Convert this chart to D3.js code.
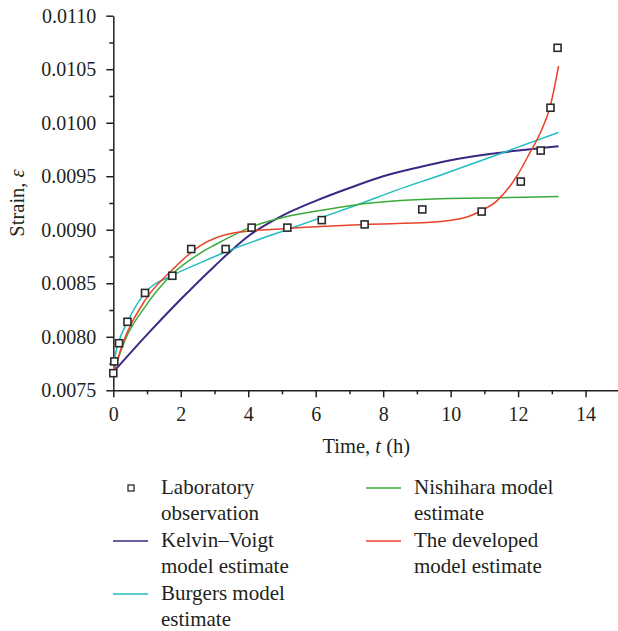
<!DOCTYPE html>
<html>
<head>
<meta charset="utf-8">
<script src="https://d3js.org/d3.v7.min.js"></script>
<style>
  body { margin: 0; background: #fff; }
  svg { display: block; font-family: "Liberation Serif", "Times New Roman", serif; }
  .axis path, .axis line { stroke: #231f20; }
  .axis text { fill: #231f20; font-size: 20px; font-family: "Liberation Serif", serif; }
</style>
</head>
<body>
<svg id="chart" width="618" height="631"></svg>
<script>
// laboratory observation
var obsTime = [0, 0.03, 0.17, 0.42, 0.94, 1.75, 2.31, 3.33, 4.10, 5.16, 6.18, 7.45, 9.16, 10.92, 12.08, 12.67, 12.96, 13.17]
var obsStrain = [0.00766, 0.00777, 0.00794, 0.00814, 0.00841, 0.00857, 0.00882, 0.00882, 0.00902, 0.00902, 0.00909, 0.00905, 0.00919, 0.00917, 0.00945, 0.00974, 0.01014, 0.01070]

// model estimates
var kvTime = [0, 1, 2, 3, 4, 5, 6, 7, 8, 9, 10, 11, 12, 13.2]
var kvStrain = [0.00767, 0.00802, 0.00835, 0.00866, 0.00894, 0.00913, 0.00927, 0.00939, 0.00950, 0.00958, 0.00965, 0.00970, 0.00974, 0.00978]

var burgersTime = [0, 0.05, 0.15, 0.42, 0.94, 1.73, 2.57, 3.31, 5.14, 6.13, 7.12, 8.4, 9.69, 11.46, 13.2]
var burgersStrain = [0.00766, 0.00781, 0.00794, 0.00814, 0.00841, 0.00857, 0.00869, 0.00879, 0.00900, 0.00911, 0.00922, 0.00937, 0.00951, 0.00971, 0.00991]

var nishiTime = [0, 0.35, 0.94, 1.73, 2.57, 3.02, 4.05, 5.24, 6.13, 7.12, 8.4, 9.69, 11.5, 13.2]
var nishiStrain = [0.00766, 0.00797, 0.00828, 0.00858, 0.00878, 0.00886, 0.00902, 0.00913, 0.00918, 0.00923, 0.00927, 0.00929, 0.00930, 0.00931]

var devTime = [0, 0.25, 0.94, 1.73, 2.57, 3.56, 5.04, 6.13, 7.46, 9.39, 10.38, 10.92, 11.37, 11.96, 12.35, 12.65, 12.95, 13.2]
var devStrain = [0.00766, 0.00791, 0.00834, 0.00862, 0.00885, 0.00897, 0.00901, 0.00903, 0.00905, 0.00907, 0.00911, 0.00918, 0.00927, 0.00950, 0.00972, 0.00990, 0.01015, 0.01053]

var xTicks = [0, 2, 4, 6, 8, 10, 12, 14]
var xMinorTicks = [1, 3, 5, 7, 9, 11, 13]
var yTicks = [0.0075, 0.0080, 0.0085, 0.0090, 0.0095, 0.0100, 0.0105, 0.0110]
var yMinorTicks = [0.00775, 0.00825, 0.00875, 0.00925, 0.00975, 0.01025, 0.01075]

var seriesNames = ["Kelvin\u2013Voigt model estimate", "Burgers model estimate", "Nishihara model estimate", "The developed model estimate"]
var seriesColors = ["#3d2785", "#21bcc2", "#3aaa3a", "#e9432a"]
var seriesWidths = [2, 1.5, 1.5, 1.5]

var svg = d3.select("#chart")

var x = d3.scaleLinear().domain([0, 15]).range([113.3, 619.3])
var y = d3.scaleLinear().domain([0.0075, 0.0110]).range([390.3, 15.7])

// axes
svg.append("g")
    .attr("class", "axis")
    .attr("transform", "translate(0," + y(0.0075) + ")")
    .call(d3.axisBottom(x).tickValues(xTicks).tickSize(7).tickSizeOuter(0).tickPadding(10))
    .call(function(g) { g.selectAll("path, line").attr("stroke-width", 1.5) })
svg.append("g")
    .attr("class", "axis")
    .attr("transform", "translate(0," + y(0.0075) + ")")
    .call(d3.axisBottom(x).tickValues(xMinorTicks).tickSize(4).tickSizeOuter(0).tickFormat(""))
    .call(function(g) { g.select("path").remove(); g.selectAll("line").attr("stroke-width", 1.5) })

svg.append("g")
    .attr("class", "axis")
    .attr("transform", "translate(" + x(0) + ",0)")
    .call(d3.axisLeft(y).tickValues(yTicks).tickSize(7).tickSizeOuter(0).tickPadding(10).tickFormat(d3.format(".4f")))
    .call(function(g) { g.selectAll("path, line").attr("stroke-width", 1.5) })
svg.append("g")
    .attr("class", "axis")
    .attr("transform", "translate(" + x(0) + ",0)")
    .call(d3.axisLeft(y).tickValues(yMinorTicks).tickSize(4).tickSizeOuter(0).tickFormat(""))
    .call(function(g) { g.select("path").remove(); g.selectAll("line").attr("stroke-width", 1.5) })

svg.selectAll(".axis text").attr("font-size", null).attr("font-family", null)

// axis titles
var yTitle = svg.append("text")
    .attr("transform", "translate(24," + ((y(0.0075) + y(0.0110)) / 2) + ") rotate(-90)")
    .attr("text-anchor", "middle")
    .attr("font-size", 20.5)
    .attr("fill", "#231f20")
yTitle.append("tspan").text("Strain, ")
yTitle.append("tspan").attr("font-style", "italic").text("\u03b5")

var xTitle = svg.append("text")
    .attr("x", (x(0) + x(15)) / 2)
    .attr("y", 453)
    .attr("text-anchor", "middle")
    .attr("font-size", 20.5)
    .attr("fill", "#231f20")
xTitle.append("tspan").text("Time, ")
xTitle.append("tspan").attr("font-style", "italic").text("t")
xTitle.append("tspan").text(" (h)")

// model curves
var line = d3.line()
    .x(function(d) { return x(d[0]) })
    .y(function(d) { return y(d[1]) })
    .curve(d3.curveMonotoneX)

var curves = [
    d3.zip(kvTime, kvStrain),
    d3.zip(burgersTime, burgersStrain),
    d3.zip(nishiTime, nishiStrain),
    d3.zip(devTime, devStrain)
]

svg.selectAll("path.curve")
    .data(curves)
    .enter()
    .append("path")
    .attr("class", "curve")
    .attr("fill", "none")
    .attr("stroke", function(d, i) { return seriesColors[i] })
    .attr("stroke-width", function(d, i) { return seriesWidths[i] })
    .attr("d", line)

// observation squares
svg.selectAll("rect.obs")
    .data(d3.zip(obsTime, obsStrain))
    .enter()
    .append("rect")
    .attr("class", "obs")
    .attr("x", function(d) { return x(d[0]) - 3.5 })
    .attr("y", function(d) { return y(d[1]) - 3.5 })
    .attr("width", 7)
    .attr("height", 7)
    .attr("fill", "#fff")
    .attr("stroke", "#2a2a2a")
    .attr("stroke-width", 1.6)

// legend
var legendItems = [
    { lines: ["Laboratory", "observation"], type: "square", col: 0, row: 0 },
    { lines: ["Kelvin\u2013Voigt", "model estimate"], type: 0, col: 0, row: 1 },
    { lines: ["Burgers model", "estimate"], type: 1, col: 0, row: 2 },
    { lines: ["Nishihara model", "estimate"], type: 2, col: 1, row: 0 },
    { lines: ["The developed", "model estimate"], type: 3, col: 1, row: 1 }
]

var legend = svg.selectAll("g.legend")
    .data(legendItems)
    .enter()
    .append("g")
    .attr("class", "legend")
    .attr("transform", function(d) { return "translate(" + (113 + d.col * 253) + "," + (494 + d.row * 53) + ")" })

legend.each(function(d) {
    var g = d3.select(this)
    if (d.type === "square") {
        g.append("rect")
            .attr("x", 15).attr("y", -9)
            .attr("width", 6).attr("height", 6)
            .attr("fill", "#fff").attr("stroke", "#2a2a2a").attr("stroke-width", 1.3)
    } else {
        g.append("line")
            .attr("x1", 0).attr("x2", 35)
            .attr("y1", -6).attr("y2", -6)
            .attr("stroke", seriesColors[d.type])
            .attr("stroke-width", 1.3)
    }
    g.selectAll("text")
        .data(d.lines)
        .enter()
        .append("text")
        .attr("x", 48)
        .attr("y", function(t, i) { return i * 25.5 })
        .attr("font-size", 21)
        .attr("fill", "#231f20")
        .text(function(t) { return t })
})
</script>
</body>
</html>
